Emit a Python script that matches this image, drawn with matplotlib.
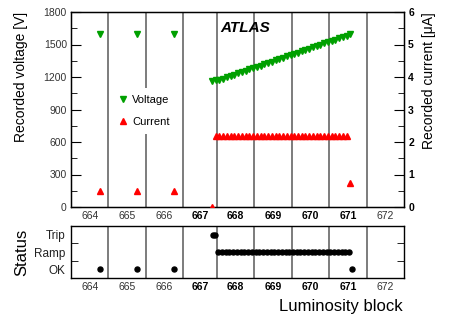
import matplotlib
matplotlib.use('Agg')
import matplotlib.pyplot as plt
from matplotlib.lines import Line2D
from matplotlib.ticker import MultipleLocator

plt.rcParams['font.family'] = ['Liberation Sans', 'DejaVu Sans']

# ---- data ----
lb_numbers = [664, 665, 666, 667, 668, 669, 670, 671, 672]
lb_edges_s = [0, 60, 120, 180, 234, 294, 354, 414, 474, 534]   # block boundaries [s]
bold_blocks = [667, 668, 669, 670, 671]

meas_time = [46, 106, 165,
             226, 232, 238, 244, 250, 256, 262, 268, 274, 280, 286, 292, 298,
             304, 310, 316, 322, 328, 334, 340, 346, 352, 358, 364, 370, 376,
             382, 388, 394, 400, 406, 412, 418, 424, 430, 436, 442, 448]
voltage = [1600, 1600, 1600,
           1162, 1168, 1175, 1186, 1198, 1210, 1222, 1234, 1246, 1258, 1270,
           1282, 1294, 1306, 1318, 1330, 1342, 1354, 1366, 1378, 1390, 1402,
           1414, 1426, 1438, 1450, 1462, 1474, 1486, 1498, 1510, 1522, 1534,
           1546, 1558, 1570, 1582, 1598]
current = [0.5, 0.5, 0.5,
           0.0, 2.2, 2.2, 2.2, 2.2, 2.2, 2.2, 2.2, 2.2, 2.2, 2.2, 2.2, 2.2,
           2.2, 2.2, 2.2, 2.2, 2.2, 2.2, 2.2, 2.2, 2.2, 2.2, 2.2, 2.2, 2.2,
           2.2, 2.2, 2.2, 2.2, 2.2, 2.2, 2.2, 2.2, 2.2, 2.2, 2.2, 0.74]

status_names = ['OK', 'Ramp', 'Trip']
status_time = [46, 106, 165, 227, 231,
               236, 242, 248, 254, 260, 266, 272, 278, 284, 290, 296, 302,
               308, 314, 320, 326, 332, 338, 344, 350, 356, 362, 368, 374,
               380, 386, 392, 398, 404, 410, 416, 422, 428, 434, 440, 446, 450]
status = ['OK', 'OK', 'OK', 'Trip', 'Trip',
          'Ramp', 'Ramp', 'Ramp', 'Ramp', 'Ramp', 'Ramp', 'Ramp', 'Ramp',
          'Ramp', 'Ramp', 'Ramp', 'Ramp', 'Ramp', 'Ramp', 'Ramp', 'Ramp',
          'Ramp', 'Ramp', 'Ramp', 'Ramp', 'Ramp', 'Ramp', 'Ramp', 'Ramp',
          'Ramp', 'Ramp', 'Ramp', 'Ramp', 'Ramp', 'Ramp', 'Ramp', 'Ramp',
          'Ramp', 'Ramp', 'Ramp', 'Ramp', 'OK']

# ---- figure ----
W, H = 449, 322
fig = plt.figure(figsize=(W / 100, H / 100), dpi=100)

def frac(x0, y0, x1, y1):
    return [x0 / W, 1 - y1 / H, (x1 - x0) / W, (y1 - y0) / H]

ax = fig.add_axes(frac(71, 12, 404, 207))
axb = fig.add_axes(frac(71, 226, 404, 278))
ax2 = ax.twinx()

green = '#00a000'
red = '#ff0000'
line_col = '#666666'
lab_col = '#333333'

centers = [(lb_edges_s[i] + lb_edges_s[i + 1]) / 2 for i in range(len(lb_numbers))]

for a in (ax, axb):
    a.set_xlim(lb_edges_s[0], lb_edges_s[-1])
    for e in lb_edges_s[1:-1]:
        a.axvline(e, color=line_col, lw=1.2, zorder=1)
    a.set_xticks(centers)
    a.set_xticklabels([str(n) for n in lb_numbers])
    a.tick_params(axis='x', length=0, pad=3, labelsize=7.5)
    for lbl, n in zip(a.get_xticklabels(), lb_numbers):
        if n in bold_blocks:
            lbl.set_fontweight('bold')
            lbl.set_color('black')
        else:
            lbl.set_color(lab_col)
    for s in a.spines.values():
        s.set_linewidth(1.0)

# voltage
ax.plot(meas_time, voltage, linestyle='none', marker='v', color=green,
        markersize=5, zorder=3)
ax.set_ylim(0, 1800)
ax.yaxis.set_major_locator(MultipleLocator(300))
ax.yaxis.set_minor_locator(MultipleLocator(150))
ax.tick_params(axis='y', which='major', direction='in', length=7, labelsize=7.5,
               labelcolor=lab_col, pad=3)
ax.tick_params(axis='y', which='minor', direction='in', length=4)
ax.set_ylabel('Recorded voltage [V]', fontsize=10, loc='top')
ax.yaxis.set_label_coords(-0.13, 1.0)

# current
ax2.plot(meas_time, current, linestyle='none', marker='^', color=red,
         markersize=5, zorder=3)
ax2.set_ylim(0, 6)
ax2.yaxis.set_major_locator(MultipleLocator(1))
ax2.yaxis.set_minor_locator(MultipleLocator(0.5))
ax2.tick_params(axis='y', which='major', direction='in', length=7, labelsize=7.5, pad=3)
ax2.tick_params(axis='y', which='minor', direction='in', length=4)
for lbl in ax2.get_yticklabels():
    lbl.set_fontweight('bold')
ax2.set_ylabel('Recorded current [\u03bcA]', fontsize=10, loc='top')
ax2.yaxis.set_label_coords(1.055, 1.0)

ax.text((220 - 71) / 333, (207 - 28) / 195, 'ATLAS', transform=ax.transAxes,
        fontsize=11, fontweight='bold', fontstyle='italic', va='center', ha='left')

handles = [Line2D([], [], linestyle='none', marker='v', color=green, markersize=5),
           Line2D([], [], linestyle='none', marker='^', color=red, markersize=5)]
leg = ax2.legend(handles, ['Voltage', 'Current'], loc='upper left',
                 bbox_to_anchor=((111 - 71) / 333, (207 - 88) / 195),
                 frameon=True, fontsize=8, handlelength=1.0, handletextpad=0.3,
                 labelspacing=1.1, borderpad=0.6, borderaxespad=0)
leg.get_frame().set_facecolor('white')
leg.get_frame().set_edgecolor('none')
leg.get_frame().set_alpha(1)

# status
status_code = [status_names.index(s) for s in status]
axb.plot(status_time, status_code, linestyle='none', marker='o', color='black',
         markersize=3.6, zorder=3)
axb.set_ylim(-0.5, 2.5)
axb.set_yticks([0, 1, 2])
axb.set_yticklabels(status_names)
axb.yaxis.set_minor_locator(MultipleLocator(1, offset=0.5))
axb.tick_params(axis='y', which='major', length=0, labelsize=8.5, pad=4,
                labelcolor='#222222')
axb.tick_params(axis='y', which='minor', direction='in', length=5, left=True, right=True)
axb.set_ylabel('Status', fontsize=12)
axb.yaxis.set_label_coords(-0.125, 0.5)

fig.text(403 / W, 1 - 307 / H, 'Luminosity block', fontsize=12, ha='right', va='center')

fig.savefig('out.png', dpi=100)
